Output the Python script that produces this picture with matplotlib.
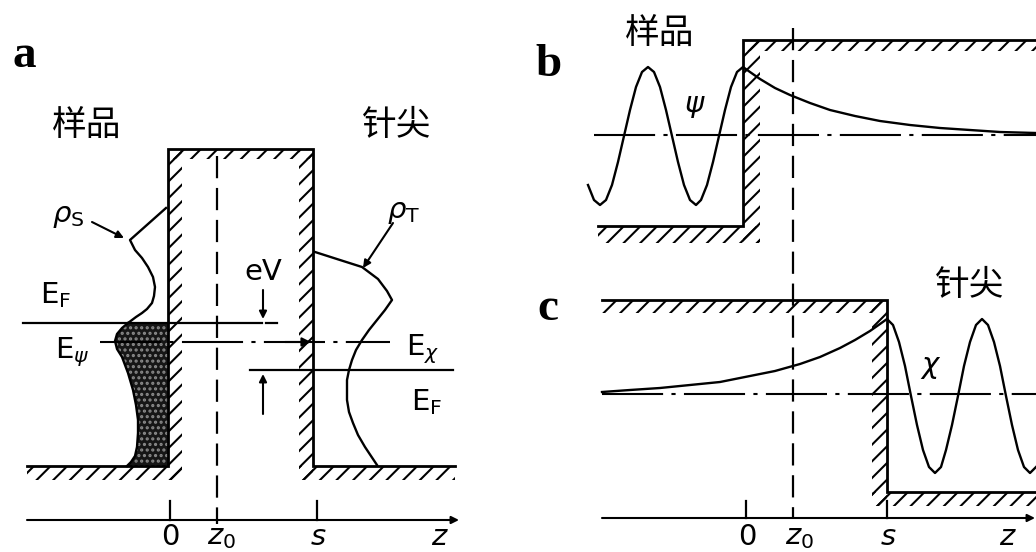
import matplotlib.pyplot as plt
from matplotlib.patches import Rectangle

plt.rcParams['mathtext.fontset'] = 'dejavusans'
plt.rcParams['hatch.linewidth'] = 1.5
plt.rcParams['lines.scale_dashes'] = False

# ---- panel a: levels and walls (pixel coords of the original figure)
a_z = {'0': 168, 'z0': 217, 's': 313}
a_top = 149
a_floor = 466
a_ef_left = 323
a_epsi = 342
a_ef_right = 370

rho_s_x = [166, 148, 130, 135, 142, 148, 153, 155, 154, 152, 147, 142, 136, 132, 128]
rho_s_y = [208, 224, 240, 250, 258, 267, 277, 287, 296, 303, 309, 313, 317, 320, 323]

shade_x = [128, 122, 117, 115, 117, 122, 128, 133, 136, 138, 138, 137, 135, 131, 127]
shade_y = [323, 328, 334, 341, 349, 357, 373, 390, 405, 420, 433, 447, 456, 462, 466]

rho_t_x = [315, 340, 362, 378, 387, 392, 385, 377, 369, 362, 356, 352, 349, 347, 347,
           349, 353, 358, 365, 371, 377]
rho_t_y = [252, 260, 267, 279, 291, 300, 310, 320, 330, 340, 350, 360, 370, 380, 400,
           412, 423, 435, 447, 456, 465]

# ---- panels b, c
bc_z = {'0': 746, 'z0': 793, 's': 887}
b_top, b_floor, b_axis = 40, 226, 135
c_top, c_floor, c_axis = 300, 492, 394

psi_x = [588, 594, 600, 606, 612, 618, 624, 630, 636, 642, 648, 654, 660, 666, 672,
         678, 684, 690, 696, 701, 707, 713, 719, 725, 731, 737, 743, 750, 760, 775,
         790, 810, 830, 855, 880, 910, 940, 970, 1000, 1036]
psi_y = [185, 200, 205, 200, 185, 162, 136, 110, 87, 72, 67, 72, 87, 110, 136,
         162, 185, 200, 205, 200, 185, 162, 136, 110, 87, 72, 67, 72, 79, 88,
         95, 103, 110, 116, 121, 125, 128, 130, 132, 133]

chi_x = [602, 630, 660, 690, 720, 750, 775, 800, 820, 840, 855, 870, 880, 887, 893,
         899, 905, 911, 917, 923, 929, 935, 941, 946, 952, 958, 964, 970, 976, 982,
         988, 994, 1000, 1006, 1012, 1018, 1024, 1030, 1036]
chi_y = [392, 390, 388, 385, 382, 376, 371, 364, 357, 348, 340, 331, 324, 319, 325,
         342, 366, 396, 425, 450, 467, 473, 467, 450, 425, 396, 366, 342, 325, 319,
         325, 342, 366, 396, 425, 450, 467, 473, 467]

fig = plt.figure(figsize=(10.36, 5.52), dpi=100)
ax = fig.add_axes([0, 0, 1, 1])
ax.set_xlim(0, 1036)
ax.set_ylim(552, 0)
ax.axis('off')

LW = 1.7
dashdot = (0, (44, 6, 3, 6))
dashed = (0, (16, 7))
LAB_Y = 551


def hatch(x, y, w, h):
    ax.add_patch(Rectangle((x, y), w, h, fill=False, hatch='//', lw=0,
                           edgecolor='black'))


def arrow(tail, tip, ms=13):
    ax.annotate('', xy=tip, xytext=tail,
                arrowprops=dict(arrowstyle='-|>', lw=1.5, color='k',
                                mutation_scale=ms, shrinkA=0, shrinkB=0))


cjk = ['Noto Sans CJK SC', 'DejaVu Sans']

# ================= panel a =================
x0, xz0, xs = a_z['0'], a_z['z0'], a_z['s']
ax.plot([27, x0, x0, xs, xs, 455], [a_floor, a_floor, a_top, a_top, a_floor, a_floor],
        color='k', lw=2.0, solid_joinstyle='miter')
hatch(27, a_floor, x0 + 14 - 27, 14)
hatch(x0, a_top, 14, a_floor + 14 - a_top)
hatch(x0, a_top, xs - x0, 10)
hatch(xs - 14, a_top, 14, a_floor + 14 - a_top)
hatch(xs - 14, a_floor, 455 - xs + 14, 14)

ax.plot([xz0, xz0], [156, 524], color='k', lw=1.6, linestyle=dashed)

# shaded occupied states
ax.fill(shade_x + [x0, x0], shade_y + [a_floor, a_ef_left], facecolor='#161616',
        edgecolor='#8a8a8a', hatch='...', lw=0)
ax.plot(shade_x, shade_y, color='k', lw=LW)
ax.plot(rho_s_x, rho_s_y, color='k', lw=LW)
ax.plot(rho_t_x, rho_t_y, color='k', lw=LW)

# energy levels
ax.plot([23, 262], [a_ef_left, a_ef_left], color='k', lw=1.6)
ax.plot([266, 277], [a_ef_left, a_ef_left], color='k', lw=1.6)
ax.plot([100, 390], [a_epsi, a_epsi], color='k', lw=1.5, linestyle=dashdot)
arrow((285, a_epsi), (311, a_epsi))
ax.plot([250, 453], [a_ef_right, a_ef_right], color='k', lw=1.6)
arrow((263, 290), (263, a_ef_left - 4), ms=11)
arrow((263, 414), (263, a_ef_right + 4), ms=11)
arrow((92, 222), (124, 238), ms=11)
arrow((393, 223), (363, 268), ms=11)

# axis
arrow((27, 520), (459, 520), ms=11)
for xt in [170, 317]:
    ax.plot([xt, xt], [501, 520], color='k', lw=1.6)

ax.text(12, 67, 'a', fontsize=34, fontweight='bold', family='Liberation Serif',
        va='baseline', ha='left')
ax.text(87, 125, '样品', fontsize=25, family=cjk, ha='center', va='center')
ax.text(397, 125, '针尖', fontsize=25, family=cjk, ha='center', va='center')
ax.text(52, 222, r'$\rho_{\mathrm{S}}$', fontsize=21, ha='left', va='baseline')
ax.text(387, 218, r'$\rho_{\mathrm{T}}$', fontsize=21, ha='left', va='baseline')
ax.text(40, 303, r'$\mathrm{E}_{\mathrm{F}}$', fontsize=21, ha='left', va='baseline')
ax.text(55, 358, r'$\mathrm{E}_{\psi}$', fontsize=21, ha='left', va='baseline')
ax.text(406, 355, r'$\mathrm{E}_{\chi}$', fontsize=21, ha='left', va='baseline')
ax.text(411, 410, r'$\mathrm{E}_{\mathrm{F}}$', fontsize=21, ha='left', va='baseline')
ax.text(244, 280, 'eV', fontsize=21, ha='left', va='baseline')

for lab, xl in [('0', 170), (r'$z_0$', 222), (r'$s$', 318), (r'$z$', 440)]:
    ax.text(xl, LAB_Y, lab, fontsize=21, ha='center', va='bottom')

# ================= panel b =================
bx0, bz0, bs = bc_z['0'], bc_z['z0'], bc_z['s']
ax.plot([598, 743, 743, 1036], [b_floor, b_floor, b_top, b_top], color='k', lw=2.0,
        solid_joinstyle='miter')
hatch(598, b_floor, 760 - 598, 17)
hatch(743, b_top, 17, b_floor + 17 - b_top)
hatch(743, b_top, 1036 - 743, 11)
ax.plot([594, 1036], [b_axis, b_axis], color='k', lw=1.5, linestyle=dashdot)
ax.plot(psi_x, psi_y, color='k', lw=LW)

ax.text(535, 76, 'b', fontsize=34, fontweight='bold', family='Liberation Serif',
        va='baseline', ha='left')
ax.text(660, 33, '样品', fontsize=25, family=cjk, ha='center', va='center')
ax.text(684, 112, r'$\psi$', fontsize=21, ha='left', va='baseline')

# ================= panel c =================
ax.plot([602, 887, 887, 1036], [c_top, c_top, c_floor, c_floor], color='k', lw=2.0,
        solid_joinstyle='miter')
hatch(602, c_top, 887 - 602, 13)
hatch(872, c_top, 15, c_floor + 14 - c_top)
hatch(872, c_floor, 1036 - 872, 14)
ax.plot([602, 1036], [c_axis, c_axis], color='k', lw=1.5, linestyle=dashdot)
ax.plot(chi_x, chi_y, color='k', lw=LW)

ax.plot([bz0, bz0], [28, 518], color='k', lw=1.6, linestyle=dashed)

ax.text(537, 320, 'c', fontsize=34, fontweight='bold', family='Liberation Serif',
        va='baseline', ha='left')
ax.text(970, 286, '针尖', fontsize=25, family=cjk, ha='center', va='center')
ax.text(920, 373, r'$\chi$', fontsize=21, ha='left', va='baseline')

arrow((602, 518), (1035, 518), ms=11)
for xt in [bx0, bs]:
    ax.plot([xt, xt], [501, 518], color='k', lw=1.6)
for lab, xl in [('0', 747), (r'$z_0$', 800), (r'$s$', 888), (r'$z$', 1008)]:
    ax.text(xl, LAB_Y, lab, fontsize=21, ha='center', va='bottom')

fig.savefig('out.png', dpi=100)
